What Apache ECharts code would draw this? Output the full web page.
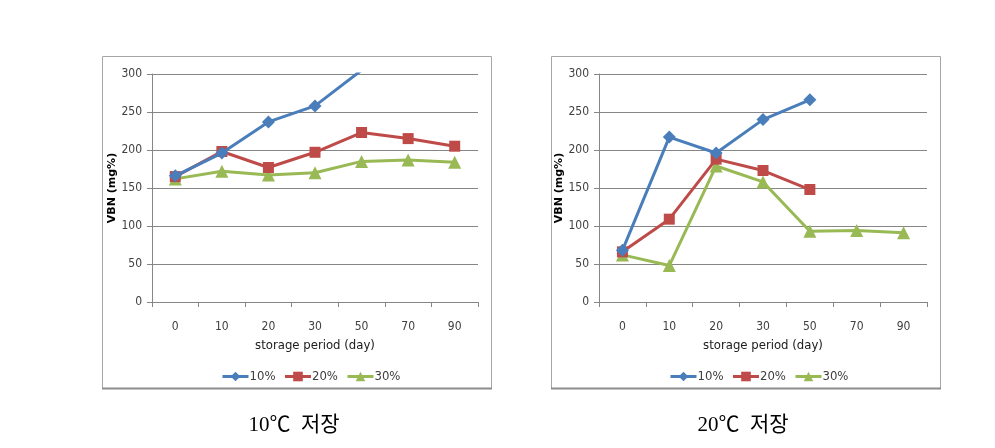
<!DOCTYPE html>
<html><head><meta charset="utf-8">
<script src="https://cdn.jsdelivr.net/npm/echarts@6/dist/echarts.min.js"></script>
<style>html,body{margin:0;padding:0;background:#fff}#c{width:995px;height:448px}</style>
</head><body><div id="c"></div>
<script>
const categories = ['0','10','20','30','50','70','90'];
const yTicks = [0,50,100,150,200,250,300];
const seriesNames = ['10%','20%','30%'];
// 10℃ storage
const left10 = [166, 196, 237, 258, 305, null, null];
const left20 = [165, 198, 177, 197, 223, 215, 205];
const left30 = [162, 172, 167, 170, 185, 187, 184];
// 20℃ storage
const right10 = [68, 217, 196, 240, 266, null, null];
const right20 = [66, 109, 188, 173, 148, null, null];
const right30 = [62, 48, 179, 158, 93, 94, 91];
const captions = ['10℃  저장', '20℃  저장'];

const colors = ['#4a7ebb', '#be4b48', '#98b954'];
const symbols = ['diamond', 'rect', 'triangle'];
const symbolSizes = [13, 11, 13];
const tickFont = "'Liberation Sans Narrow','DejaVu Sans Condensed',sans-serif";

const chart = echarts.init(document.getElementById('c'), null, {renderer: 'canvas'});

function grid(left, right){ return {left, right, top: 74, bottom: 146, containLabel: false}; }
function xAxis(i){
  return {type:'category', gridIndex:i, data: categories, boundaryGap:true,
    axisLine:{lineStyle:{color:'#868686'}}, axisTick:{show:true, length:5, lineStyle:{color:'#868686'}},
    axisLabel:{color:'#404040', fontSize:12, fontFamily: tickFont, margin:19},
    name:'storage period (day)', nameLocation:'middle', nameGap:37,
    nameTextStyle:{color:'#202020', fontSize:13, fontFamily: tickFont}};
}
function yAxis(i){
  return {type:'value', gridIndex:i, min:0, max:300, interval:50,
    axisLine:{show:true, lineStyle:{color:'#868686'}}, axisTick:{show:true, length:5, lineStyle:{color:'#868686'}},
    splitLine:{lineStyle:{color:'#868686'}},
    axisLabel:{color:'#404040', fontSize:12, fontFamily: tickFont, margin:10},
    name:'VBN (mg%)', nameLocation:'middle', nameGap:33,
    nameTextStyle:{color:'#000', fontSize:11, fontWeight:'bold', fontFamily:'DejaVu Sans, sans-serif'}};
}
function mkSeries(data, k, i){
  return {name: seriesNames[k], type:'line', xAxisIndex:i, yAxisIndex:i, data,
    symbol: symbols[k], symbolSize: symbolSizes[k], showSymbol:true, clip:true, connectNulls:false,
    lineStyle:{color: colors[k], width:3}, itemStyle:{color: colors[k]}, z: 10 - k};
}
function legend(left){
  return {data: seriesNames, left, top: 365, itemWidth: 26, itemHeight: 12, itemGap: 8,
    lineStyle:{width:3},
    textStyle:{color:'#404040', fontSize:13, fontFamily: tickFont, padding:[0,0,0,-4]}};
}

const leftSeries = [left10, left20, left30].map((d,k)=>mkSeries(d,k,0));
const rightSeries = [right10, right20, right30].map((d,k)=>mkSeries(d,k,1));

chart.setOption({
  animation:false,
  backgroundColor:'#fff',
  grid:[grid(152, 517), grid(599, 68)],
  xAxis:[xAxis(0), xAxis(1)],
  yAxis:[yAxis(0), yAxis(1)],
  legend:[legend(216), legend(664)],
  series: leftSeries.concat(rightSeries),
  graphic:[
    {type:'rect', shape:{x:102.5, y:56.5, width:389, height:332}, style:{fill:'none', stroke:'#a6a6a6', lineWidth:1}, z:-1},
    {type:'rect', shape:{x:551.5, y:56.5, width:389, height:332}, style:{fill:'none', stroke:'#a6a6a6', lineWidth:1}, z:-1},
    {type:'line', shape:{x1:102, y1:388.5, x2:492, y2:388.5}, style:{stroke:'#8c8c8c', lineWidth:2}},
    {type:'line', shape:{x1:551, y1:388.5, x2:941, y2:388.5}, style:{stroke:'#8c8c8c', lineWidth:2}},
    {type:'text', style:{text: captions[0], x:294, y:425, align:'center', verticalAlign:'middle',
      font:"21px 'Liberation Serif','Noto Sans CJK KR',serif", fill:'#000'}},
    {type:'text', style:{text: captions[1], x:743, y:425, align:'center', verticalAlign:'middle',
      font:"21px 'Liberation Serif','Noto Sans CJK KR',serif", fill:'#000'}}
  ]
});
</script>
</body></html>
